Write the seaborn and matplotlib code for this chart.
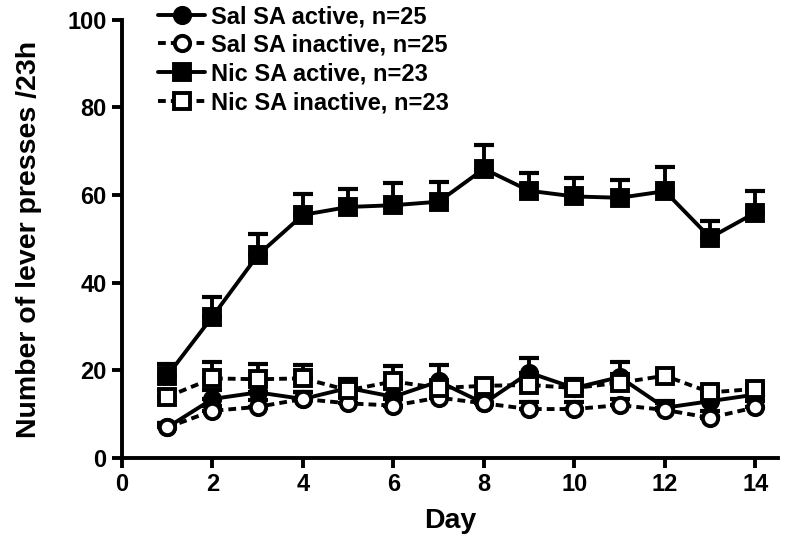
import numpy as np
import pandas as pd
import matplotlib
matplotlib.use("Agg")
import matplotlib.pyplot as plt
import seaborn as sns
from matplotlib.lines import Line2D

days = list(range(1, 15))

sal_act = [7.0, 13.5, 15.0, 13.5, 16.0, 14.0, 17.5, 12.5, 19.5, 16.0, 18.5, 11.5, 13.0, 14.5]
sal_act_err = [1.0, 2.0, 2.0, 1.5, 2.0, 2.0, 3.7, 1.5, 3.3, 2.0, 3.5, 1.5, 1.5, 1.5]
sal_inact = [7.0, 10.8, 11.7, 13.5, 12.5, 12.0, 13.8, 12.5, 11.2, 11.2, 12.1, 11.0, 9.2, 11.6]
sal_inact_err = [1.0, 1.2, 1.5, 1.5, 1.5, 1.5, 2.0, 1.5, 1.5, 1.5, 1.5, 1.5, 1.5, 1.5]
nic_act = [18.8, 32.3, 46.3, 55.5, 57.3, 57.7, 58.5, 66.0, 61.0, 59.7, 59.4, 60.9, 50.3, 56.0]
nic_act_err = [2.7, 4.5, 4.8, 4.8, 4.1, 5.0, 4.6, 5.4, 4.1, 4.2, 4.1, 5.6, 3.9, 4.9]
nic_inact = [14.0, 18.2, 18.0, 18.2, 15.5, 17.5, 16.0, 16.5, 16.7, 16.0, 17.2, 18.8, 15.0, 15.8]
nic_inact_err = [1.5, 3.8, 3.5, 3.0, 1.5, 3.5, 1.5, 1.0, 1.5, 1.5, 2.0, 1.0, 1.0, 1.0]

labels = ["Sal SA active, n=25", "Sal SA inactive, n=25",
          "Nic SA active, n=23", "Nic SA inactive, n=23"]

sns.set_style("ticks")
plt.rcParams["font.family"] = ["Liberation Sans", "DejaVu Sans"]
plt.rcParams["font.weight"] = "bold"
plt.rcParams["text.color"] = "black"
plt.rcParams["axes.labelcolor"] = "black"
plt.rcParams["xtick.color"] = "black"
plt.rcParams["ytick.color"] = "black"
plt.rcParams["axes.edgecolor"] = "black"

fig = plt.figure(figsize=(8, 5.5), dpi=100)
ax = fig.add_axes([0.1525, 0.167, 0.82, 0.797])

dash = (0, (2.0, 1.3))
series = [
    (sal_act, sal_act_err, "o", "black", "-"),
    (sal_inact, sal_inact_err, "o", "white", dash),
    (nic_act, nic_act_err, "s", "black", "-"),
    (nic_inact, nic_inact_err, "s", "white", dash),
]

handles = []
for (vals, err, mk, fc, ls), lab in zip(series, labels):
    ax.errorbar(days, vals, yerr=[np.zeros(len(err)), err], fmt="none",
                ecolor="black", elinewidth=2.8, capsize=7, capthick=3, zorder=2)
    sns.lineplot(x=days, y=vals, ax=ax, color="black", linestyle=ls, linewidth=2.8,
                 marker=mk, markersize=11, markerfacecolor=fc,
                 markeredgecolor="black", markeredgewidth=2.8, zorder=3)
    handles.append(Line2D([], [], color="black", linestyle=ls, linewidth=2.8,
                          marker=mk, markersize=11, markerfacecolor=fc,
                          markeredgecolor="black", markeredgewidth=2.8, label=lab))

ax.set_xlim(0, 14.5)
ax.set_ylim(0, 100)
ax.set_xticks(range(0, 15, 2))
ax.set_yticks(range(0, 101, 20))
ax.tick_params(labelsize=17, width=2.8, length=7, pad=4)
for lbl in ax.get_xticklabels() + ax.get_yticklabels():
    lbl.set_fontweight("bold")
sns.despine(ax=ax)
for sp in ["left", "bottom"]:
    ax.spines[sp].set_linewidth(2.8)

ax.set_xlabel("Day", fontsize=20.5, fontweight="bold", labelpad=8)
ax.set_ylabel("Number of lever presses /23h", fontsize=20.5, fontweight="bold", labelpad=18)

leg = fig.legend(handles=handles, loc="upper left", bbox_to_anchor=(0.186, 1.008),
                 frameon=False, fontsize=17, handlelength=2.0, handletextpad=0.25,
                 labelspacing=0.24, borderaxespad=0)
for t in leg.get_texts():
    t.set_fontweight("bold")

fig.savefig("out.png", dpi=100)
